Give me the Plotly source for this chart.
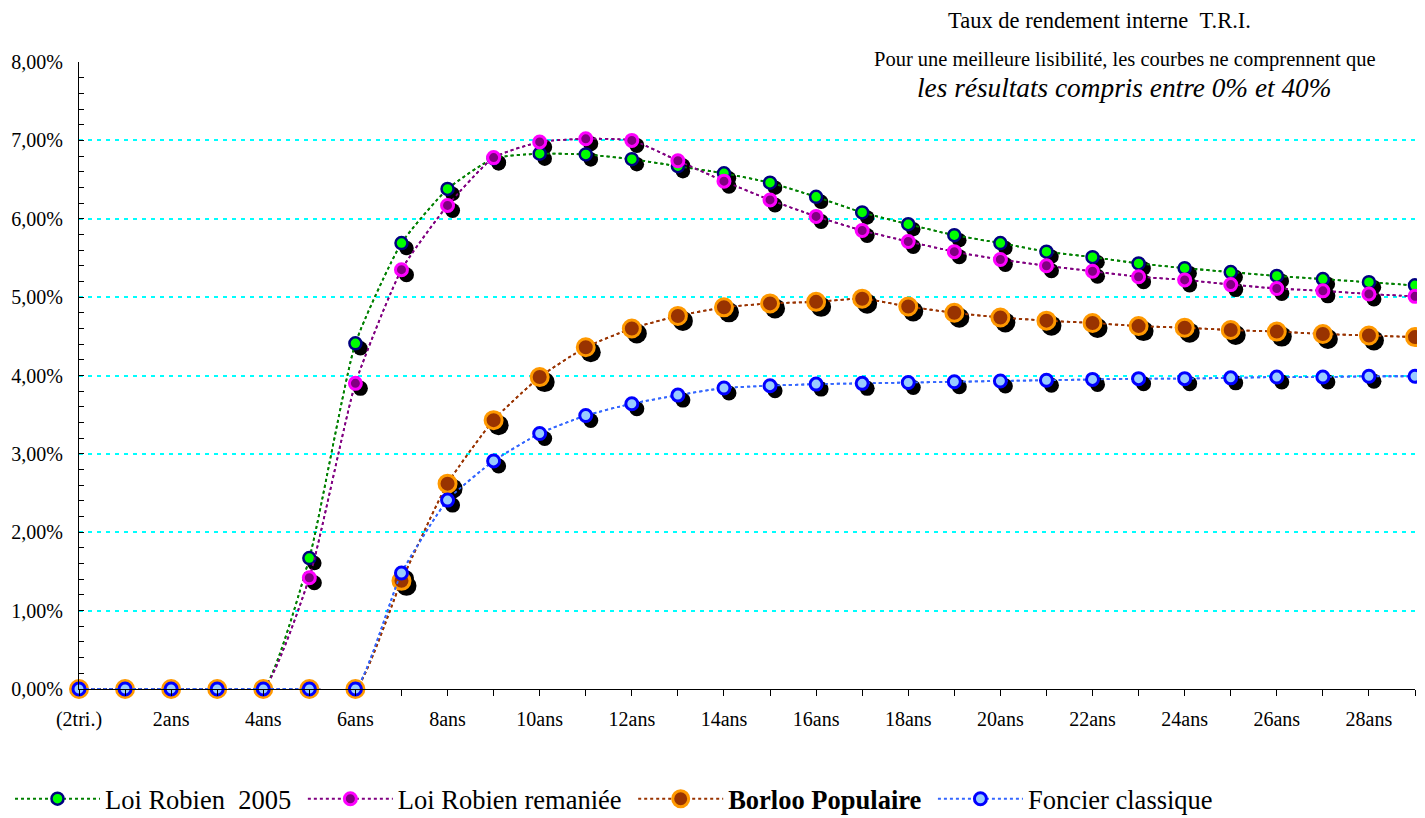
import plotly.graph_objects as go

# ---- data ----
periods = list(range(30))
tick_positions = list(range(0, 30, 2))
tick_labels = ["(2tri.)", "2ans", "4ans", "6ans", "8ans", "10ans", "12ans", "14ans",
               "16ans", "18ans", "20ans", "22ans", "24ans", "26ans", "28ans"]

robien_2005 = [0, 0, 0, 0, 0, 1.67, 4.41, 5.69, 6.38, 6.77, 6.83, 6.82, 6.76, 6.67, 6.58,
               6.46, 6.28, 6.08, 5.93, 5.79, 5.69, 5.58, 5.51, 5.43, 5.37, 5.32, 5.27, 5.23, 5.19, 5.15]
robien_remaniee = [0, 0, 0, 0, 0, 1.42, 3.90, 5.35, 6.17, 6.78, 6.98, 7.02, 7.00, 6.74, 6.48,
                   6.24, 6.03, 5.85, 5.71, 5.58, 5.48, 5.40, 5.33, 5.26, 5.22, 5.16, 5.11, 5.08, 5.04, 5.01]
borloo = [0, 0, 0, 0, 0, 0, 0, 1.38, 2.62, 3.43, 3.98, 4.36, 4.60, 4.76, 4.87,
          4.92, 4.94, 4.98, 4.88, 4.80, 4.74, 4.70, 4.67, 4.63, 4.61, 4.58, 4.56, 4.53, 4.51, 4.49]
foncier = [0, 0, 0, 0, 0, 0, 0, 1.48, 2.41, 2.91, 3.26, 3.49, 3.64, 3.75, 3.84,
           3.87, 3.89, 3.90, 3.91, 3.92, 3.93, 3.94, 3.95, 3.96, 3.96, 3.97, 3.98, 3.98, 3.99, 3.99]

series_names = ["Loi Robien\u00a0\u00a02005", "Loi Robien remaniée", "<b>Borloo Populaire</b>", "Foncier classique"]
series_values = [robien_2005, robien_remaniee, borloo, foncier]

# ---- styles ----
FONT = "Liberation Serif"
styles = [
    dict(line="#008000", fill="#00FF00", edge="#000080", size=12, lw=2.5),
    dict(line="#800080", fill="#800080", edge="#FF00FF", size=12, lw=3),
    dict(line="#993300", fill="#993300", edge="#FF9900", size=17, lw=3),
    dict(line="#3366FF", fill="#99CCFF", edge="#0000FF", size=12, lw=3),
]
legend_pad = ["\u00a0", "\u00a0", "\u00a0", ""]  # extra spacing between legend entries

X_RANGE = [0, 29]
Y_RANGE = [0, 8]
# page body has an 8px margin: figure occupies page x 8..1425, y 8..818
W, H = 1417, 810
L, R, T, B = 71, 10, 54, 129
plot_w = W - L - R
plot_h = H - T - B
shadow_px = 5
dx = shadow_px * (X_RANGE[1] - X_RANGE[0]) / plot_w
dy = shadow_px * (Y_RANGE[1] - Y_RANGE[0]) / plot_h
OFF = 8  # page offset

fig = go.Figure()

# base layer: lines only
for name, vals, st in zip(series_names, series_values, styles):
    fig.add_trace(go.Scatter(
        x=periods, y=vals, mode="lines", xaxis="x", yaxis="y",
        line=dict(color=st["line"], width=1.8, dash="dot", shape="spline", smoothing=0.5),
        showlegend=False, hoverinfo="skip", cliponaxis=False))

# shadow layer
for name, vals, st in zip(series_names, series_values, styles):
    fig.add_trace(go.Scatter(
        x=periods, y=vals, mode="markers", xaxis="x2", yaxis="y2",
        marker=dict(color="black", size=st["size"] + st["lw"], line=dict(width=0)),
        showlegend=False, hoverinfo="skip", cliponaxis=False))

# top layer: lines + markers
for name, vals, st, pad in zip(series_names, series_values, styles, legend_pad):
    fig.add_trace(go.Scatter(
        x=periods, y=vals, mode="lines+markers", name=name + pad, xaxis="x3", yaxis="y3",
        line=dict(color=st["line"], width=1.8, dash="dot", shape="spline", smoothing=0.5),
        marker=dict(color=st["fill"], size=st["size"], line=dict(color=st["edge"], width=st["lw"])),
        cliponaxis=False))

hidden = dict(visible=False, showgrid=False, zeroline=False, fixedrange=True)

fig.update_layout(
    width=W, height=H,
    margin=dict(l=L, r=R, t=T, b=B, autoexpand=False),
    paper_bgcolor="white", plot_bgcolor="white",
    separators=", ",
    font=dict(family=FONT, size=20, color="black"),
    xaxis=dict(range=X_RANGE, tickmode="array", tickvals=tick_positions, ticktext=tick_labels,
               showline=True, linecolor="black", linewidth=1, ticks="outside", ticklen=6,
               tickcolor="black", showgrid=False, zeroline=False, automargin=False,
               ticklabelstandoff=6,
               minor=dict(tickmode="array", tickvals=periods, ticks="outside", ticklen=6, tickcolor="black"),
               tickfont=dict(family=FONT, size=20)),
    yaxis=dict(range=Y_RANGE, dtick=1, tickformat=".2f", ticksuffix="%",
               showline=True, linecolor="black", linewidth=1, ticks="inside", ticklen=5,
               tickcolor="black", showgrid=True, gridcolor="#00FFFF", gridwidth=2,
               griddash="4px,5px", zeroline=False, ticklabelstandoff=11, automargin=False,
               minor=dict(dtick=0.2, ticks="inside", ticklen=5, tickcolor="black", showgrid=False),
               tickfont=dict(family=FONT, size=20)),
    xaxis2=dict(range=[X_RANGE[0] - dx, X_RANGE[1] - dx], overlaying="x", **hidden),
    yaxis2=dict(range=[Y_RANGE[0] + dy, Y_RANGE[1] + dy], overlaying="y", **hidden),
    xaxis3=dict(range=X_RANGE, overlaying="x", **hidden),
    yaxis3=dict(range=Y_RANGE, overlaying="y", **hidden),
    legend=dict(orientation="h", xref="container", yref="container",
                x=(2 - OFF + 8) / W, xanchor="left", y=1 - (799 - OFF) / H, yanchor="middle",
                font=dict(family=FONT, size=26.5), bgcolor="rgba(0,0,0,0)", itemwidth=85,
                tracegroupgap=0),
    showlegend=True,
)

fig.add_annotation(text="Taux de rendement interne\u00a0\u00a0T.R.I.", xref="paper", yref="paper",
                   x=(1099 - OFF - L) / plot_w, y=1 + (T - (20 - OFF)) / plot_h, xanchor="center", yanchor="middle",
                   showarrow=False, font=dict(family=FONT, size=22.5))
fig.add_annotation(text="Pour une meilleure lisibilité, les courbes ne comprennent que", xref="paper", yref="paper",
                   x=(1125 - OFF - L) / plot_w, y=1 + (T - (60 - OFF)) / plot_h, xanchor="center", yanchor="middle",
                   showarrow=False, font=dict(family=FONT, size=20.5))
fig.add_annotation(text="<i>les résultats compris entre 0% et 40%</i>", xref="paper", yref="paper",
                   x=(1124 - OFF - L) / plot_w, y=1 - ((88 - OFF) - T) / plot_h, xanchor="center", yanchor="middle",
                   showarrow=False, font=dict(family=FONT, size=27.3))

fig.write_html("out.html")
